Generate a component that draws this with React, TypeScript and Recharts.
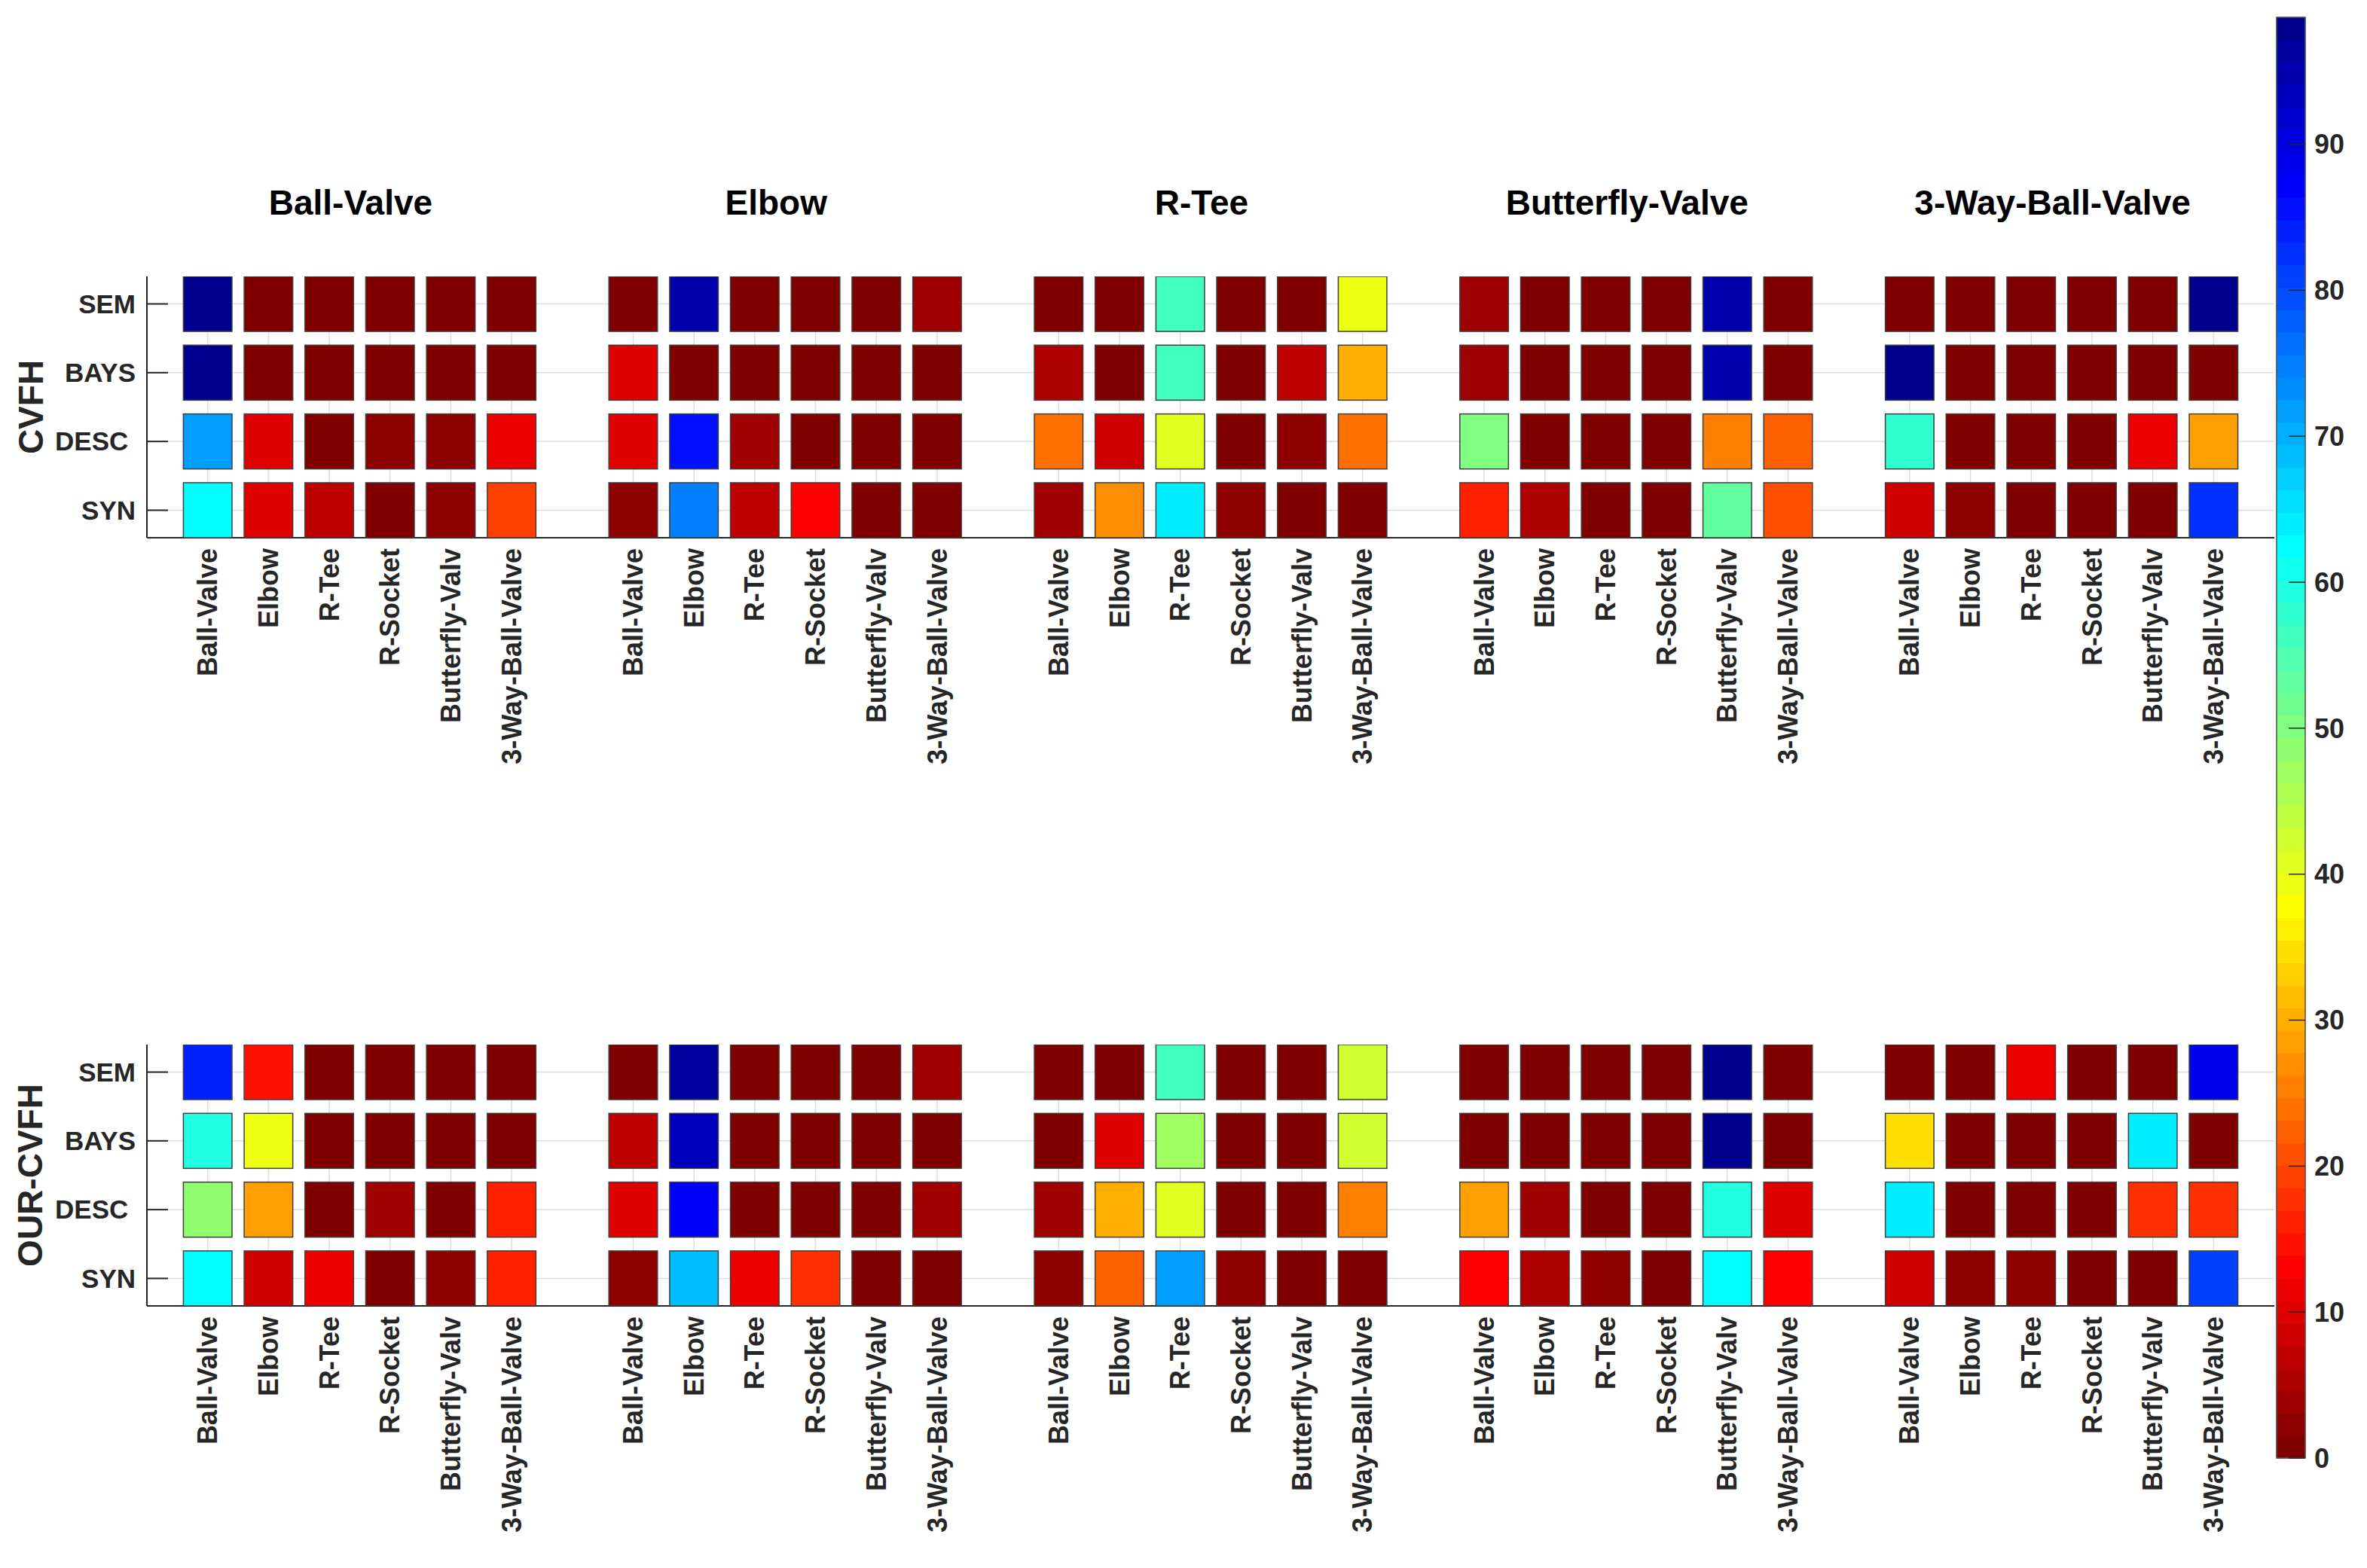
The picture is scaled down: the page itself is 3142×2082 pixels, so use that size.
import React from "react";
import {
  ScatterChart,
  Scatter,
  XAxis,
  YAxis,
  ReferenceLine,
  ComposedChart,
  ReferenceArea,
} from "recharts";

const groups = ["Ball-Valve", "Elbow", "R-Tee", "Butterfly-Valve", "3-Way-Ball-Valve"];
const classes = ["Ball-Valve", "Elbow", "R-Tee", "R-Socket", "Butterfly-Valv", "3-Way-Ball-Valve"];
const rows = ["SEM", "BAYS", "DESC\u00a0", "SYN"];
const colorTicks = [0, 10, 20, 30, 40, 50, 60, 70, 80, 90];

// CVFH, one array per object group: rows SEM, BAYS, DESC, SYN x the six classes
const cvfhBallValve = [
  [97.9, 0.8, 0.8, 0.8, 0.8, 0.8],
  [97.9, 0.8, 0.8, 0.8, 0.8, 0.8],
  [71.7, 10.0, 0.8, 2.3, 2.3, 11.6],
  [62.4, 10.0, 6.9, 0.8, 2.3, 19.3],
];
const cvfhElbow = [
  [0.8, 94.8, 0.8, 0.8, 0.8, 3.9],
  [10.0, 0.8, 0.8, 0.8, 0.8, 0.8],
  [10.0, 85.6, 3.9, 0.8, 0.8, 0.8],
  [2.3, 74.8, 6.9, 13.1, 0.8, 0.8],
];
const cvfhRTee = [
  [0.8, 0.8, 56.3, 0.8, 0.8, 39.3],
  [5.4, 0.8, 56.3, 0.8, 6.9, 30.1],
  [23.9, 8.5, 40.9, 0.8, 2.3, 23.9],
  [3.9, 27.0, 64.0, 2.3, 0.8, 0.8],
];
const cvfhButterfly = [
  [3.9, 0.8, 0.8, 0.8, 94.8, 0.8],
  [3.9, 0.8, 0.8, 0.8, 94.8, 0.8],
  [50.1, 0.8, 0.8, 0.8, 25.4, 22.4],
  [16.2, 5.4, 0.8, 0.8, 53.2, 20.8],
];
const cvfhThreeWay = [
  [0.8, 0.8, 0.8, 0.8, 0.8, 97.9],
  [97.9, 0.8, 0.8, 0.8, 0.8, 0.8],
  [57.8, 0.8, 0.8, 0.8, 11.6, 28.5],
  [8.5, 2.3, 0.8, 0.8, 0.8, 82.5],
];

// OUR-CVFH
const ourBallValve = [
  [84.0, 14.6, 0.8, 0.8, 0.8, 0.8],
  [59.4, 39.3, 0.8, 0.8, 0.8, 0.8],
  [48.6, 28.5, 0.8, 3.9, 0.8, 16.2],
  [62.4, 8.5, 11.6, 0.8, 2.3, 16.2],
];
const ourElbow = [
  [0.8, 96.4, 0.8, 0.8, 0.8, 3.9],
  [6.9, 93.3, 0.8, 0.8, 0.8, 0.8],
  [10.0, 87.1, 0.8, 0.8, 0.8, 3.9],
  [2.3, 68.6, 11.6, 17.7, 0.8, 0.8],
];
const ourRTee = [
  [0.8, 0.8, 56.3, 0.8, 0.8, 42.4],
  [0.8, 10.0, 47.0, 0.8, 0.8, 42.4],
  [3.9, 30.1, 40.9, 0.8, 0.8, 25.4],
  [2.3, 22.4, 71.7, 2.3, 0.8, 0.8],
];
const ourButterfly = [
  [0.8, 0.8, 0.8, 0.8, 97.9, 0.8],
  [0.8, 0.8, 0.8, 0.8, 97.9, 0.8],
  [28.5, 3.9, 0.8, 0.8, 59.4, 10.0],
  [13.1, 5.4, 2.3, 0.8, 62.4, 13.1],
];
const ourThreeWay = [
  [0.8, 0.8, 11.6, 0.8, 0.8, 88.7],
  [34.7, 0.8, 0.8, 0.8, 64.0, 0.8],
  [64.0, 0.8, 0.8, 0.8, 17.7, 17.7],
  [8.5, 2.3, 2.3, 0.8, 0.8, 80.9],
];

const cvfhGroups = [cvfhBallValve, cvfhElbow, cvfhRTee, cvfhButterfly, cvfhThreeWay];
const ourGroups = [ourBallValve, ourElbow, ourRTee, ourButterfly, ourThreeWay];

const COLOR_MAX = 98.7;
const LEVELS = 64;

// matlab jet(64), row 1..64
function jetRow(i: number) {
  const u = (k: number) => (k < 1 || k > 47 ? 0 : k <= 16 ? k / 16 : k <= 31 ? 1 : (48 - k) / 16);
  const c = (f: number) => Math.round(f * 255);
  return `rgb(${c(u(i - 24))},${c(u(i - 8))},${c(u(i + 8))})`;
}
// flipped map: level 0 is dark red
const levelColor = (l: number) => jetRow(LEVELS - l);
const valueColor = (v: number) =>
  levelColor(Math.max(0, Math.min(LEVELS - 1, Math.floor((v / COLOR_MAX) * LEVELS))));

const W = 3142;
const H = 1060;
// axes take 1px (a 0px axis is not drawn), so margins are 1px short
const M = { top: 367, right: 123, bottom: 345, left: 194 };
const X_MAX = 35;
const UNIT_X = (W - 195 - M.right) / X_MAX;
const UNIT_Y = (H - M.top - 346) / 3.8;
const FONT = "'Liberation Sans', Arial, Helvetica, sans-serif";
const INK = "#262626";
const GRID = "#dedede";
const yTicks = [1, 2, 3, 4];

const slot = (g: number, c: number) => g * 7 + c + 1;
const xTicks = groups.flatMap((_, g) => classes.map((_, c) => slot(g, c)));

function buildPoints(values: number[][][]) {
  const pts: { x: number; y: number; v: number }[] = [];
  values.forEach((grid, g) =>
    grid.forEach((row, r) => row.forEach((v, c) => pts.push({ x: slot(g, c), y: r + 1, v })))
  );
  return pts;
}

const renderCell = (p: any) => {
  const w = UNIT_X * 0.8;
  const h = UNIT_Y * 0.8;
  return (
    <rect
      x={p.cx - w / 2}
      y={p.cy - h / 2}
      width={w}
      height={h}
      fill={valueColor(p.payload.v)}
      stroke="#3f3f3f"
      strokeWidth={1.5}
    />
  );
};

const XTick = (p: any) => (
  <text
    x={p.x}
    y={p.y + 14}
    transform={`rotate(-90, ${p.x}, ${p.y + 14})`}
    textAnchor="end"
    dy="0.35em"
    fill={INK}
    fontFamily={FONT}
    fontWeight="bold"
    fontSize={36}
  >
    {classes[(p.payload.value - 1) % 7]}
  </text>
);

const YTick = (p: any) => (
  <g>
    <line x1={p.x} x2={p.x + 28} y1={p.y} y2={p.y} stroke={INK} strokeWidth={2} />
    <text
      x={p.x - 15}
      y={p.y}
      textAnchor="end"
      dy="0.35em"
      fill={INK}
      fontFamily={FONT}
      fontWeight="bold"
      fontSize={35}
    >
      {rows[p.payload.value - 1]}
    </text>
  </g>
);

function HeatRow({ values, top }: { values: number[][][]; top: number }) {
  return (
    <div style={{ position: "absolute", left: 0, top, width: W, height: H }}>
      <ScatterChart width={W} height={H} margin={M}>
        {xTicks.map((t) => (
          <ReferenceLine key={`x${t}`} x={t} stroke={GRID} strokeWidth={1.5} />
        ))}
        {yTicks.map((t) => (
          <ReferenceLine key={`y${t}`} y={t} stroke={GRID} strokeWidth={1.5} />
        ))}
        <XAxis
          type="number"
          dataKey="x"
          domain={[0, X_MAX]}
          ticks={xTicks}
          interval={0}
          height={1}
          tickSize={0}
          tickMargin={0}
          tickLine={false}
          allowDataOverflow
          axisLine={{ stroke: INK, strokeWidth: 2 }}
          tick={XTick}
        />
        <YAxis
          type="number"
          dataKey="y"
          domain={[0.6, 4.4]}
          ticks={yTicks}
          reversed
          interval={0}
          width={1}
          tickSize={0}
          tickMargin={0}
          tickLine={false}
          allowDataOverflow
          axisLine={{ stroke: INK, strokeWidth: 2 }}
          tick={YTick}
        />
        <Scatter data={buildPoints(values)} shape={renderCell} isAnimationActive={false} />
      </ScatterChart>
    </div>
  );
}

const CbTick = (p: any) => (
  <g>
    <line x1={p.x - 22} x2={p.x} y1={p.y} y2={p.y} stroke={INK} strokeWidth={1.5} />
    <text
      x={p.x + 12}
      y={p.y}
      dy="0.35em"
      textAnchor="start"
      fill={INK}
      fontFamily={FONT}
      fontWeight="bold"
      fontSize={36}
    >
      {p.payload.value}
    </text>
  </g>
);

function ColorBar() {
  const bands = Array.from({ length: LEVELS }, (_, l) => l);
  return (
    <div style={{ position: "absolute", left: 3000, top: 0 }}>
      <ComposedChart
        width={142}
        height={2000}
        margin={{ top: 23, right: 81, bottom: 64, left: 22 }}
        data={[{ x: 0 }, { x: 1 }]}
      >
        <XAxis type="number" dataKey="x" domain={[0, 1]} hide />
        <YAxis
          type="number"
          orientation="right"
          domain={[0, COLOR_MAX]}
          ticks={colorTicks}
          interval={0}
          width={1}
          tickSize={0}
          tickMargin={0}
          axisLine={false}
          tickLine={false}
          allowDataOverflow
          tick={CbTick}
        />
        {bands.map((l) => (
          <ReferenceArea
            key={l}
            y1={(l * COLOR_MAX) / LEVELS}
            y2={((l + 1) * COLOR_MAX) / LEVELS}
            fill={levelColor(l)}
            fillOpacity={1}
            stroke={levelColor(l)}
            strokeWidth={1}
          />
        ))}
        <ReferenceArea y1={0} y2={COLOR_MAX} fill="none" stroke="#555" strokeWidth={1.5} />
      </ComposedChart>
    </div>
  );
}

export default function App() {
  const titleX = (g: number) => 195 + (slot(g, 0) + 2.5) * UNIT_X - 12;
  return (
    <div
      style={{
        position: "absolute",
        left: 0,
        top: 0,
        width: W,
        height: 2082,
        background: "#fff",
        fontFamily: FONT,
      }}
    >
      <HeatRow values={cvfhGroups} top={0} />
      <HeatRow values={ourGroups} top={1020} />
      <ColorBar />
      <svg
        width={W}
        height={2082}
        style={{ position: "absolute", left: 0, top: 0, pointerEvents: "none" }}
      >
        {groups.map((g, i) => (
          <text
            key={g}
            x={titleX(i)}
            y={285}
            textAnchor="middle"
            fontFamily={FONT}
            fontWeight="bold"
            fontSize={46}
            fill="#000"
          >
            {g}
          </text>
        ))}
        <text
          x={41}
          y={540.5}
          transform="rotate(-90, 41, 540.5)"
          textAnchor="middle"
          dy="0.35em"
          fontFamily={FONT}
          fontWeight="bold"
          fontSize={46}
          fill={INK}
        >
          CVFH
        </text>
        <text
          x={40}
          y={1560.5}
          transform="rotate(-90, 40, 1560.5)"
          textAnchor="middle"
          dy="0.35em"
          fontFamily={FONT}
          fontWeight="bold"
          fontSize={46}
          fill={INK}
        >
          OUR-CVFH
        </text>
      </svg>
    </div>
  );
}
